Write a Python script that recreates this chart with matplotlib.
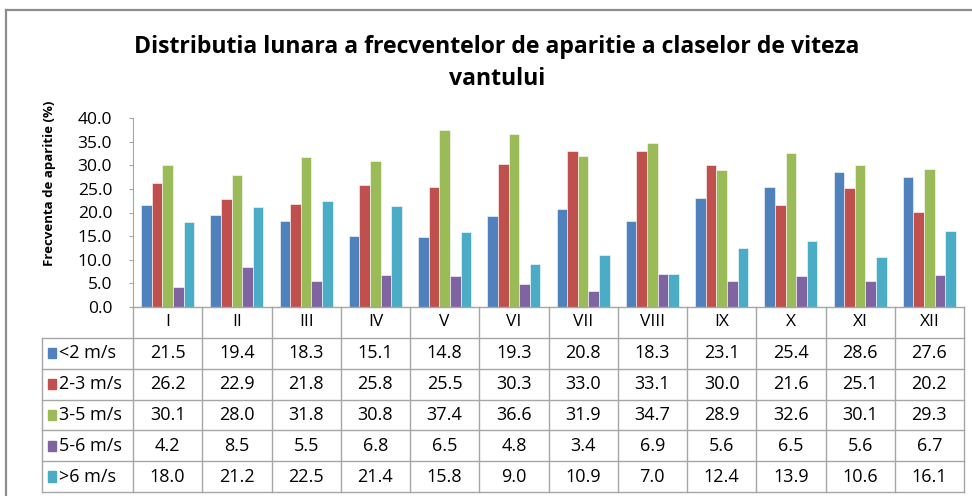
import numpy as np
import matplotlib.pyplot as plt
from matplotlib.patches import Rectangle
from matplotlib.lines import Line2D

months = ["I", "II", "III", "IV", "V", "VI", "VII", "VIII", "IX", "X", "XI", "XII"]
classes = ["<2 m/s", "2-3 m/s", "3-5 m/s", "5-6 m/s", ">6 m/s"]
v_lt2 = [21.5, 19.4, 18.3, 15.1, 14.8, 19.3, 20.8, 18.3, 23.1, 25.4, 28.6, 27.6]
v_2_3 = [26.2, 22.9, 21.8, 25.8, 25.5, 30.3, 33.0, 33.1, 30.0, 21.6, 25.1, 20.2]
v_3_5 = [30.1, 28.0, 31.8, 30.8, 37.4, 36.6, 31.9, 34.7, 28.9, 32.6, 30.1, 29.3]
v_5_6 = [4.2, 8.5, 5.5, 6.8, 6.5, 4.8, 3.4, 6.9, 5.6, 6.5, 5.6, 6.7]
v_gt6 = [18.0, 21.2, 22.5, 21.4, 15.8, 9.0, 10.9, 7.0, 12.4, 13.9, 10.6, 16.1]
series = [v_lt2, v_2_3, v_3_5, v_5_6, v_gt6]
colors = ["#4F81BD", "#C0504D", "#9BBB59", "#8064A2", "#4BACC6"]

W, H = 972, 496
fig = plt.figure(figsize=(W / 100, H / 100), dpi=100)
font = ["Open Sans", "DejaVu Sans"]
grid_c = "#A6A6A6"

def fx(px):
    return px / W

def fy(py):
    return 1 - py / H

# outer chart frame
fig.add_artist(Line2D([fx(6), fx(6)], [fy(10), fy(500)], color="#8C8C8C", lw=1.6))
fig.add_artist(Line2D([fx(6), fx(975)], [fy(10), fy(10)], color="#8C8C8C", lw=1.6))

fig.text(fx(497), fy(63), "Distributia lunara a frecventelor de aparitie a claselor de viteza\nvantului",
         ha="center", va="center", fontsize=16.6, fontweight="bold", family=font,
         linespacing=1.45)

# plot area
x0, x1 = 133, 964
y_top, y_bot = 118, 307
ax = fig.add_axes([fx(x0), fy(y_bot), fx(x1) - fx(x0), fy(y_top) - fy(y_bot)])
n = len(months)
bw = 0.153
x = np.arange(n)
for i, (vals, c) in enumerate(zip(series, colors)):
    ax.bar(x + (i - 2) * bw, vals, width=bw, color=c, edgecolor="white", linewidth=0.4)
ax.set_xlim(-0.5, n - 0.5)
ax.set_ylim(0, 40)
ticks = np.arange(0, 40.1, 5)
ax.set_yticks(ticks)
ax.set_yticklabels([f"{t:.1f}" for t in ticks], family=font, fontsize=12.5)
ax.tick_params(axis="y", length=3, color=grid_c, pad=12)
ax.set_xticks([])
for s in ["top", "right", "bottom"]:
    ax.spines[s].set_visible(False)
ax.spines["left"].set_color(grid_c)
ax.set_ylabel("Frecventa de aparitie (%)", family=font, fontsize=9.5, fontweight="bold")
ax.yaxis.set_label_coords(-(x0 - 56) / (x1 - x0), (y_bot - 183) / (y_bot - y_top))

# data table below the plot
leg_left = 42
cw = (x1 - x0) / n
tab_bot = 492
tab = fig.add_axes([fx(leg_left), fy(tab_bot), fx(x1) - fx(leg_left), fy(y_bot) - fy(tab_bot)])
xl = -(x0 - leg_left) / cw
tab.set_xlim(xl, n)
tab.set_ylim(6, 0)
tab.axis("off")
lc = dict(color=grid_c, lw=1.0, clip_on=False)
# horizontal rules
tab.plot([0, n], [0, 0], **lc)
for r in range(1, 7):
    tab.plot([xl, n], [r, r], **lc)
# vertical rules
for k in range(n + 1):
    tab.plot([k, k], [0, 6], **lc)
tab.plot([xl, xl], [1, 6], **lc)

for k, m in enumerate(months):
    tab.text(k + 0.5, 0.5, m, ha="center", va="center", family=font, fontsize=12.5)
for r, (name, vals, c) in enumerate(zip(classes, series, colors)):
    yy = r + 1.5
    tab.add_patch(Rectangle((xl + 0.09, yy - 0.17), 0.11, 0.34, color=c, clip_on=False))
    tab.text(xl + 0.24, yy, name, ha="left", va="center", family=font, fontsize=13)
    for k, v in enumerate(vals):
        tab.text(k + 0.5, yy, f"{v:.1f}", ha="center", va="center", family=font, fontsize=13)

fig.savefig("out.png", dpi=100)
